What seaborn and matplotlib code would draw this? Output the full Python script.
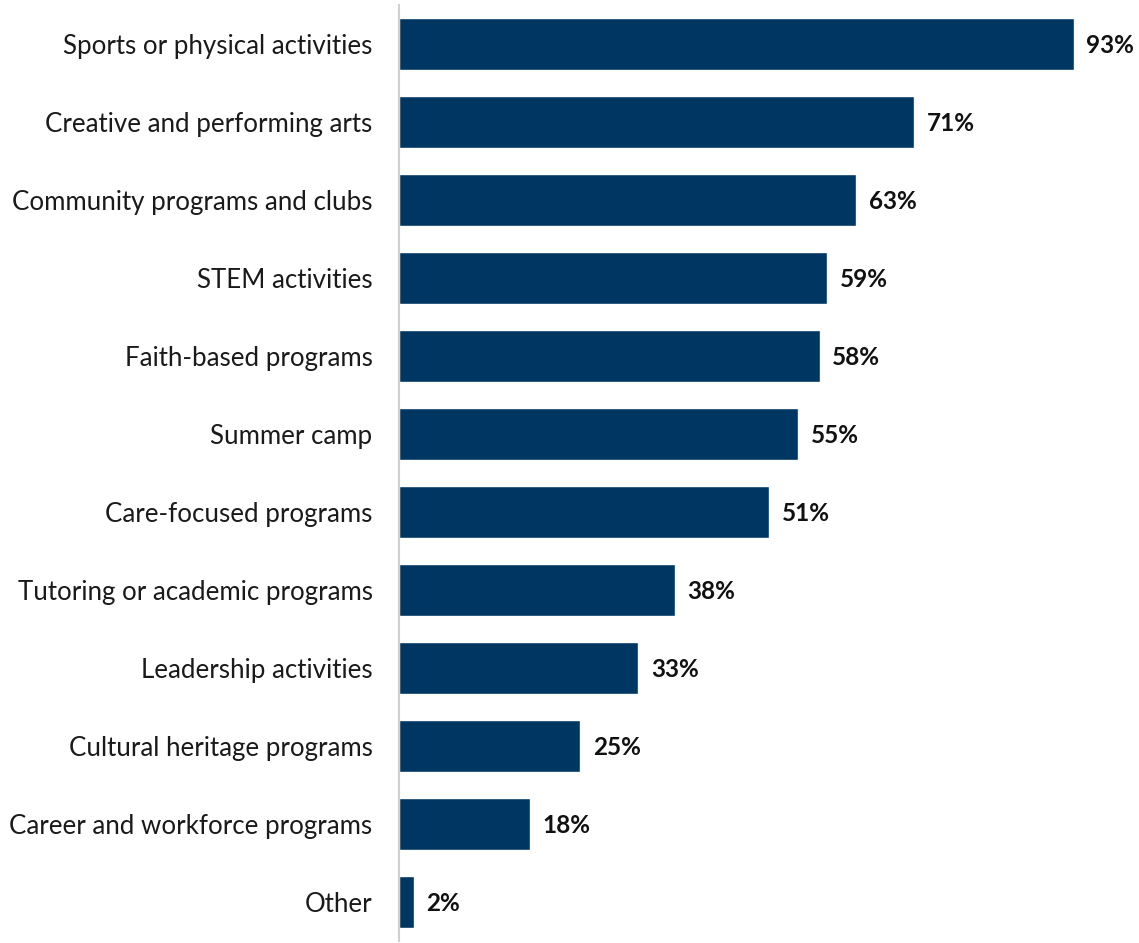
import matplotlib
matplotlib.use("Agg")
import matplotlib.pyplot as plt
import seaborn as sns
import pandas as pd

categories = [
    "Sports or physical activities",
    "Creative and performing arts",
    "Community programs and clubs",
    "STEM activities",
    "Faith-based programs",
    "Summer camp",
    "Care-focused programs",
    "Tutoring or academic programs",
    "Leadership activities",
    "Cultural heritage programs",
    "Career and workforce programs",
    "Other",
]
percentages = [93, 71, 63, 59, 58, 55, 51, 38, 33, 25, 18, 2]

df = pd.DataFrame({"category": categories, "pct": percentages})

sns.set_theme(style="white")
plt.rcParams["font.family"] = ["Lato", "DejaVu Sans"]

fig = plt.figure(figsize=(11.39, 9.43), dpi=100)
ax = fig.add_axes([0.3503, 0.0021, 0.637, 0.9926])

sns.barplot(data=df, x="pct", y="category", color="#003662", saturation=1,
            width=0.667, ax=ax, orient="h")

ax.set_xlim(0, 100)
ax.set_ylim(len(categories) - 0.5, -0.5)
ax.set_xlabel("")
ax.set_ylabel("")
ax.set_xticks([])
ax.tick_params(axis="y", length=0, pad=19, labelsize=18.6, labelcolor="#1a1a1a")

for s in ["top", "right", "bottom"]:
    ax.spines[s].set_visible(False)
ax.spines["left"].set_color("#d0d0d0")
ax.spines["left"].set_linewidth(1.5)

for i, v in enumerate(percentages):
    ax.annotate(f"{v}%", xy=(v, i), xytext=(9, -1), textcoords="offset points",
                va="center", ha="left", fontsize=17.5, fontweight="bold", color="#111111")

fig.savefig("out.png", dpi=100)
